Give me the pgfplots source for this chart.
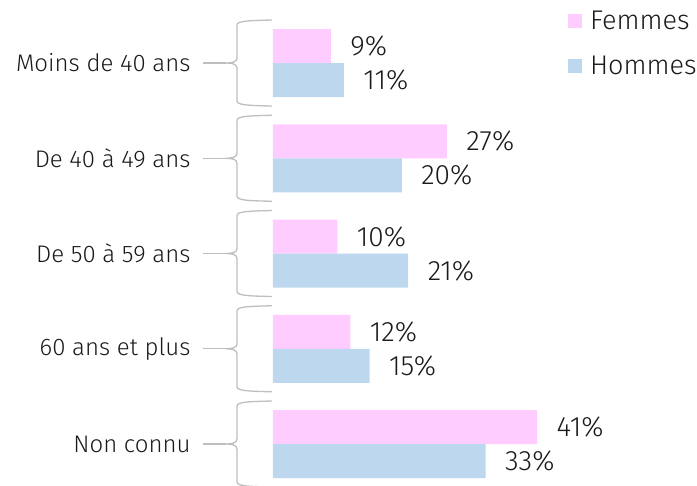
\documentclass[border=0pt]{standalone}
\usepackage{pgfplots}
\pgfplotsset{compat=1.18}
\usepackage{fontspec}
\setmainfont{Fira Sans Light}
\definecolor{fem}{HTML}{FFCCFF}
\definecolor{hom}{HTML}{BDD7EE}
\definecolor{brk}{HTML}{BEBEBE}
\definecolor{txt}{HTML}{1A1A1A}
\begin{document}
\begin{tikzpicture}
\useasboundingbox (0,0) rectangle (697pt,-486pt);
\begin{axis}[
  at={(273pt,-15.4pt)}, anchor=north west,
  scale only axis, width=386.4pt, height=476.25pt,
  xmin=0, xmax=60, ymin=-0.5, ymax=4.5,
  xbar, bar width=34pt,
  axis line style={draw=none},
  xtick=\empty,
  ytick={0,1,2,3,4},
  yticklabels={Non connu, 60 ans et plus, De 50 à 59 ans, De 40 à 49 ans, Moins de 40 ans},
  major tick length=0pt,
  yticklabel style={font=\fontsize{24}{28}\selectfont, text=txt, xshift=-79pt},
  clip=false,
  nodes near coords={\pgfmathprintnumber[assume math mode=true]{\pgfplotspointmeta}\%},
  every node near coord/.append style={font=\fontsize{28}{32}\selectfont, text=txt, anchor=west, xshift=16pt},
  legend style={draw=none, fill=none, at={(axis description cs:0.763,1.013)}, anchor=north west,
    font=\fontsize{27}{31}\selectfont, text=txt, row sep=21pt, inner sep=0pt,
    /tikz/every odd column/.append style={column sep=6pt}},
  legend cell align=left,
  legend image code/.code={\fill[#1] (0pt,-7pt) rectangle (14pt,7pt);},
]
\addplot[fill=fem, draw=none, bar shift=17pt] coordinates {(41,0) (12,1) (10,2) (27,3) (9,4)};
\addlegendentry{Femmes}
\addplot[fill=hom, draw=none, bar shift=-17pt] coordinates {(33,0) (15,1) (21,2) (20,3) (11,4)};
\addlegendentry{Hommes}
\pgfplotsinvokeforeach{0,1,2,3,4}{
  \draw[brk, line width=1.3pt, line join=round]
    ([shift={(-1pt,43pt)}]axis cs:0,#1)
    .. controls ([shift={(-25pt,42.5pt)}]axis cs:0,#1) and ([shift={(-36pt,42pt)}]axis cs:0,#1)
    .. ([shift={(-36pt,38pt)}]axis cs:0,#1)
    -- ([shift={(-36pt,5pt)}]axis cs:0,#1)
    .. controls ([shift={(-36pt,1pt)}]axis cs:0,#1) and ([shift={(-41pt,0pt)}]axis cs:0,#1)
    .. ([shift={(-47pt,0pt)}]axis cs:0,#1)
    .. controls ([shift={(-41pt,0pt)}]axis cs:0,#1) and ([shift={(-36pt,-1pt)}]axis cs:0,#1)
    .. ([shift={(-36pt,-5pt)}]axis cs:0,#1)
    -- ([shift={(-36pt,-38pt)}]axis cs:0,#1)
    .. controls ([shift={(-36pt,-42pt)}]axis cs:0,#1) and ([shift={(-25pt,-42.5pt)}]axis cs:0,#1)
    .. ([shift={(-1pt,-43pt)}]axis cs:0,#1);
  \draw[brk, line width=1.3pt] ([shift={(-47pt,0pt)}]axis cs:0,#1) -- ([shift={(-70pt,0pt)}]axis cs:0,#1);
}
\end{axis}
\end{tikzpicture}
\end{document}
